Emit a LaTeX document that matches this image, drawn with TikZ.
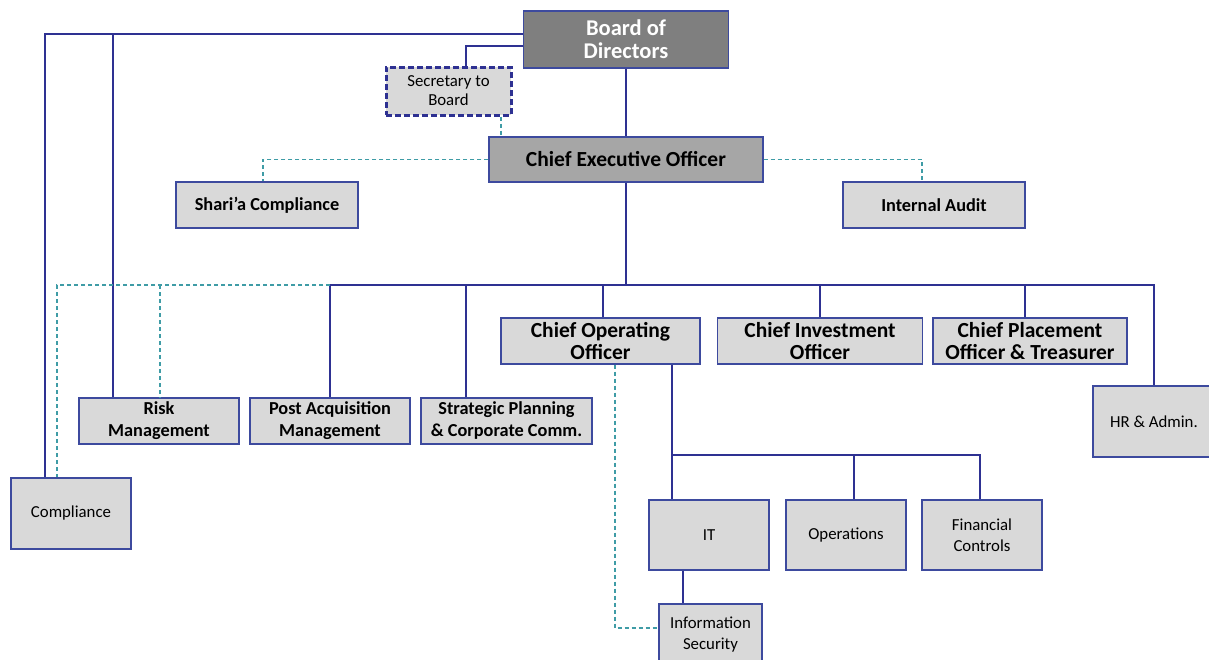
\documentclass[tikz,border=0pt]{standalone}
\usepackage{fontspec}
\setmainfont{Carlito}
\definecolor{linenavy}{HTML}{2E3192}
\definecolor{boxedge}{HTML}{3D4A9E}
\definecolor{boxfill}{HTML}{D9D9D9}
\definecolor{boardfill}{HTML}{7F7F7F}
\definecolor{ceofill}{HTML}{A6A6A6}
\definecolor{dotteal}{HTML}{3F9CA6}
\tikzset{
  unit/.style={draw=boxedge, fill=boxfill, line width=1.4pt, inner sep=0pt,
    align=center, text=black},
  headtxt/.style={font=\fontsize{21.5}{22}\selectfont\bfseries},
  midtxt/.style={font=\fontsize{18.3}{22}\selectfont\bfseries},
  smalltxt/.style={font=\fontsize{16.8}{21}\selectfont},
  org/.style={draw=linenavy, line width=2pt},
  advisory/.style={draw=dotteal, line width=1.2pt, dash pattern=on 4pt off 3pt},
}
\begin{document}
\begin{tikzpicture}[x=1pt,y=-1pt]
\useasboundingbox (0,0) rectangle (1209,659);
\clip (0,0) rectangle (1209,659);

% ---- boxes ----
\node[unit, fill=boardfill, text=white, font=\fontsize{22.5}{23}\selectfont\bfseries,
      minimum width=205pt, minimum height=57pt] (board) at (626,39.5) {Board of\\Directors};
\node[unit, draw=linenavy, line width=3pt, dash pattern=on 6pt off 3pt,
      font=\fontsize{16.8}{19}\selectfont,
      minimum width=125pt, minimum height=48pt] (sec) at (448.5,91) {Secretary to\\Board};
\node[unit, fill=ceofill, headtxt, minimum width=274pt, minimum height=45pt] (ceo) at (626,159.5) {Chief Executive Officer};
\node[unit, midtxt, minimum width=182pt, minimum height=46pt] (sharia) at (267,205) {Shari’a Compliance};
\node[unit, midtxt, minimum width=182pt, minimum height=46pt] (audit) at (934,205) {Internal Audit};

\node[unit, headtxt, minimum width=199pt, minimum height=46pt] (coo) at (600.5,341) {Chief Operating\\Officer};
\node[unit, headtxt, minimum width=205pt, minimum height=46pt] (cio) at (820,341) {Chief Investment\\Officer};
\node[unit, headtxt, minimum width=194pt, minimum height=46pt] (cpo) at (1030,341) {Chief Placement\\Officer \& Treasurer};

\node[unit, midtxt, minimum width=160pt, minimum height=46pt] (risk) at (159,421) {Risk\\Management};
\node[unit, midtxt, minimum width=160pt, minimum height=46pt] (pam) at (330,421) {Post Acquisition\\Management};
\node[unit, midtxt, minimum width=171pt, minimum height=46pt] (spc) at (506.5,421) {Strategic Planning\\\& Corporate Comm.};
\node[unit, smalltxt, minimum width=122pt, minimum height=71pt] (hr) at (1154,421.5) {HR \& Admin.};

\node[unit, smalltxt, minimum width=120pt, minimum height=71pt] (comp) at (71,513.5) {Compliance};

\node[unit, smalltxt, minimum width=120pt, minimum height=70pt] (it) at (709,535) {IT};
\node[unit, smalltxt, minimum width=120pt, minimum height=70pt] (ops) at (846,535) {Operations};
\node[unit, smalltxt, minimum width=120pt, minimum height=70pt] (fin) at (982,535) {Financial\\Controls};
\node[unit, smalltxt, minimum width=103pt, minimum height=62pt] (isec) at (710.5,635) {Information\\Security};

% ---- junction points ----
\coordinate (bar) at (0,285);
\coordinate (subbar) at (0,455);
\coordinate (riskdrop) at (113,34);

% ---- reporting lines ----
\draw[org] ([yshift=5.5pt]board.west) -| ([xshift=-26pt]comp.north);
\draw[org] (riskdrop) -- ([xshift=-46pt]risk.north);
\draw[org] ([yshift=-6.5pt]board.west) -| ([xshift=17.5pt]sec.north);
\draw[org] (board.south) -- (board.south |- ceo.north);
\draw[org] (ceo.south) -- (ceo.south |- bar);
\draw[org] (pam.north |- bar) -| (hr.north);
\draw[org] (pam.north |- bar) -- (pam.north);
\draw[org] ([xshift=-40.5pt]spc.north |- bar) -- ([xshift=-40.5pt]spc.north);
\draw[org] ([xshift=2.5pt]coo.north |- bar) -- ([xshift=2.5pt]coo.north);
\draw[org] (cio.north |- bar) -- (cio.north);
\draw[org] ([xshift=-5pt]cpo.north |- bar) -- ([xshift=-5pt]cpo.north);

\draw[org] ([xshift=71.5pt]coo.south) -- ([xshift=71.5pt]coo.south |- subbar) -| ([xshift=-2pt]fin.north);
\draw[org] ([xshift=-37pt]it.north |- subbar) -- ([xshift=-37pt]it.north);
\draw[org] ([xshift=8pt]ops.north |- subbar) -- ([xshift=8pt]ops.north);
\draw[org] ([xshift=-26pt]it.south) -- ([xshift=-26pt]it.south |- isec.north);

% ---- advisory (dashed) lines ----
\draw[advisory] ([xshift=52.5pt]sec.south) -- ([xshift=52.5pt]sec.south |- ceo.north);
\draw[advisory] (ceo.west) -| ([xshift=-4pt]sharia.north);
\draw[advisory] (ceo.east) -| ([xshift=-12pt]audit.north);
\draw[advisory] (pam.north |- bar) -| ([xshift=-14pt]comp.north);
\draw[advisory] ([xshift=1pt]risk.north |- bar) -- ([xshift=1pt]risk.north);
\draw[advisory] ([xshift=14.5pt]coo.south) |- ([yshift=7pt]isec.west);
\end{tikzpicture}
\end{document}
